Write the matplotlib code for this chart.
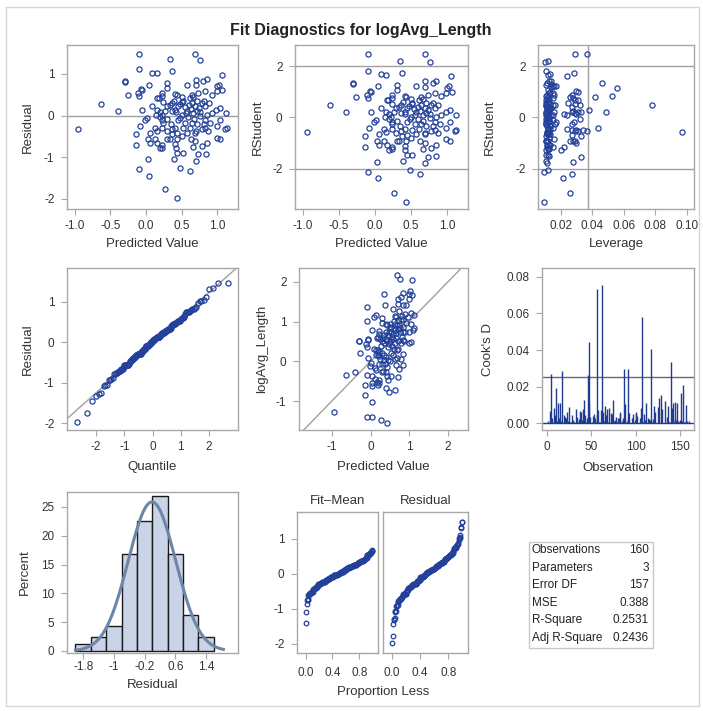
import numpy as np
import matplotlib
matplotlib.use("Agg")
import matplotlib.pyplot as plt
from matplotlib.patches import Rectangle
from matplotlib.ticker import FormatStrFormatter
from statistics import NormalDist

# observation-ordered values
predicted = [
    0.52, 0.01, 0.80, 0.37, 1.00, 0.51, 0.23, 0.85, 0.44, 0.34,
    0.71, 0.59, -0.07, 0.50, -0.95, 0.78, 0.03, 0.76, -0.06, 0.43,
    0.81, 1.04, 0.30, 1.04, 0.33, 0.83, 0.99, 0.30, 0.05, -0.40,
    0.69, 0.83, 0.57, 0.03, 0.63, 0.83, 0.70, -0.14, 0.57, 0.87,
    1.02, 0.92, 0.05, 0.45, 1.13, 0.73, 1.07, 0.62, 0.12, 0.41,
    0.81, 0.83, 0.16, 0.36, 0.71, 0.27, 0.99, 0.23, 0.29, 0.64,
    0.73, 0.69, 0.23, 0.24, -0.26, 0.55, -0.11, 0.30, 0.15, -0.30,
    0.45, -0.10, 0.41, 0.08, 0.08, 0.41, 0.16, 0.63, -0.06, -0.09,
    0.36, 0.18, 0.66, 0.14, 0.29, 0.23, -0.30, 0.69, 0.22, 0.23,
    0.37, 0.23, 0.78, 0.36, 0.24, 0.41, 0.85, 0.42, 0.12, -0.63,
    0.43, 0.99, 0.50, 0.30, 0.64, 1.04, -0.10, 0.56, 0.61, 0.61,
    0.57, 0.19, 0.66, 0.78, 0.66, 0.69, 0.04, 0.71, 0.90, 0.50,
    0.70, 0.42, 0.85, -0.02, 0.44, 0.92, -0.10, 0.19, 0.76, 0.52,
    1.12, 0.48, 0.70, 0.98, 1.11, 0.67, 0.84, 0.33, 0.35, 0.43,
    0.04, 0.39, 0.47, 0.52, -0.10, 0.60, 0.15, 0.15, 0.74, 0.70,
    0.48, 0.88, 0.20, 1.06, 0.27, 0.54, -0.14, 0.64, 0.76, 0.39,
]
residual = [
    0.34, -0.06, 0.82, -0.45, 0.70, 0.33, -0.10, 0.87, -0.41, 1.35,
    0.34, -0.03, 0.63, -0.49, -0.33, 0.29, -1.05, -0.02, 0.60, -0.57,
    0.34, -0.10, 0.78, 0.18, -0.57, 0.22, -0.25, 0.66, -0.41, 0.12,
    0.22, -0.10, 0.74, -0.57, 0.16, -0.29, 0.74, -0.45, 0.12, -0.37,
    0.74, 0.50, -0.67, 0.22, -0.29, -0.93, 0.60, -1.33, -0.57, 0.14,
    -0.21, 0.58, -0.67, 0.30, -0.21, -1.76, 0.58, -0.71, 0.22, -0.17,
    0.54, 1.48, -0.77, 0.32, 0.48, -0.17, 0.54, -0.57, 0.14, 0.81,
    -0.10, 0.46, -0.69, 0.22, 1.03, -0.29, 0.42, -0.57, 0.14, -0.25,
    -0.32, 0.42, -0.75, 0.01, -0.37, 0.54, 0.82, -0.61, 0.02, -0.29,
    1.06, 0.46, -0.73, 0.10, -0.17, 0.52, -0.67, 0.08, -0.29, 0.28,
    0.48, -0.53, 0.02, -0.08, 0.50, -0.56, 1.48, 0.06, -0.29, 0.41,
    -0.41, -0.79, 0.05, -0.32, 0.45, -0.41, -1.44, 0.10, -0.17, 0.44,
    0.86, -0.78, 0.02, -0.10, -0.90, 0.05, -1.29, -0.04, 1.32, -0.89,
    0.05, -0.05, -1.09, 0.14, -0.32, -0.08, -0.93, 0.26, -0.20, -1.98,
    0.74, -1.05, 0.28, -0.30, 1.11, 0.25, 1.02, -0.36, 0.18, -0.38,
    -1.25, 0.30, 0.08, 0.98, 0.12, 0.20, -0.71, 0.30, 0.08, 0.36,
]
leverage = [
    0.0110, 0.0155, 0.0115, 0.0110, 0.0560, 0.0290, 0.0285, 0.0125, 0.0270, 0.0118,
    0.0120, 0.0115, 0.0300, 0.0125, 0.0970, 0.0165, 0.0280, 0.0125, 0.0135, 0.0115,
    0.0250, 0.0170, 0.0110, 0.0380, 0.0290, 0.0115, 0.0150, 0.0120, 0.0130, 0.0490,
    0.0125, 0.0110, 0.0155, 0.0120, 0.0280, 0.0300, 0.0140, 0.0330, 0.0110, 0.0120,
    0.0160, 0.0526, 0.0115, 0.0130, 0.0340, 0.0330, 0.0310, 0.0275, 0.0110, 0.0120,
    0.0130, 0.0125, 0.0125, 0.0320, 0.0115, 0.0260, 0.0150, 0.0155, 0.0115, 0.0270,
    0.0270, 0.0370, 0.0120, 0.0130, 0.0420, 0.0110, 0.0160, 0.0260, 0.0270, 0.0140,
    0.0125, 0.0280, 0.0115, 0.0140, 0.0135, 0.0120, 0.0110, 0.0110, 0.0330, 0.0440,
    0.0290, 0.0290, 0.0125, 0.0115, 0.0115, 0.0115, 0.0460, 0.0300, 0.0125, 0.0130,
    0.0285, 0.0155, 0.0120, 0.0110, 0.0110, 0.0105, 0.0130, 0.0300, 0.0240, 0.0780,
    0.0260, 0.0160, 0.0120, 0.0125, 0.0120, 0.0280, 0.0290, 0.0155, 0.0120, 0.0310,
    0.0115, 0.0200, 0.0110, 0.0310, 0.0115, 0.0125, 0.0215, 0.0290, 0.0165, 0.0125,
    0.0140, 0.0110, 0.0125, 0.0115, 0.0120, 0.0140, 0.0095, 0.0320, 0.0100, 0.0110,
    0.0240, 0.0110, 0.0115, 0.0160, 0.0370, 0.0125, 0.0125, 0.0115, 0.0130, 0.0097,
    0.0170, 0.0110, 0.0105, 0.0275, 0.0105, 0.0270, 0.0118, 0.0115, 0.0120, 0.0120,
    0.0118, 0.0155, 0.0115, 0.0240, 0.0310, 0.0125, 0.0220, 0.0110, 0.0220, 0.0120,
]
n_params = 3
stat_labels = ["Observations", "Parameters", "Error DF", "MSE", "R-Square", "Adj R-Square"]
stat_values = ["160", "3", "157", "0.388", "0.2531", "0.2436"]

pred = np.array(predicted)
res = np.array(residual)
lev = np.array(leverage)
n = len(pred)
obs = np.arange(1, n + 1)
sse = np.sum(res ** 2)
mse = sse / (n - n_params)
s_i = np.sqrt((sse - res ** 2 / (1 - lev)) / (n - n_params - 1))
rstudent = res / (s_i * np.sqrt(1 - lev))
cooksd = res ** 2 / (n_params * mse) * lev / (1 - lev) ** 2
observed = pred + res

plt.rcParams["font.family"] = ["Liberation Sans", "DejaVu Sans"]
plt.rcParams["axes.unicode_minus"] = False

W, H = 703, 711
MARK = "#23419A"
FRAME = "#A8A8A8"
REF = "#A0A0A0"
TXT = "#333333"
LABEL_FS = 9.5
TICK_FS = 8.5

fig = plt.figure(figsize=(W / 100, H / 100), dpi=100)
fig.patch.set_facecolor("white")
fig.patches.append(Rectangle((6 / W, 1 - 706 / H), 693 / W, 699 / H, transform=fig.transFigure,
                             facecolor="none", edgecolor="#D6D6D6", lw=1))
fig.text(361 / W, 1 - 30 / H, "Fit Diagnostics for logAvg_Length", ha="center", va="center",
         fontsize=11.5, fontweight="bold", color="#222222")


def add_ax(x0, y0, x1, y1, xpad=4):
    ax = fig.add_axes([x0 / W, 1 - y1 / H, (x1 - x0) / W, (y1 - y0) / H])
    for s in ax.spines.values():
        s.set_color(FRAME)
        s.set_linewidth(1)
    ax.tick_params(colors=FRAME, labelcolor=TXT, labelsize=TICK_FS, length=4, width=0.8)
    ax.tick_params(axis="x", pad=xpad)
    ax.tick_params(axis="y", pad=5)
    return ax


def labels(ax, xlab, ylab, xlab_y, ylab_x):
    # label centres given in figure pixels
    box = ax.get_position()
    ax.set_xlabel(xlab, fontsize=LABEL_FS, color=TXT, va="center")
    ax.xaxis.set_label_coords((box.x0 + box.x1) / 2, 1 - xlab_y / H, transform=fig.transFigure)
    ax.set_ylabel(ylab, fontsize=LABEL_FS, color=TXT, va="center")
    ax.yaxis.set_label_coords(ylab_x / W, (box.y0 + box.y1) / 2, transform=fig.transFigure)


def scatter(ax, x, y, ms=3.7):
    ax.plot(x, y, "o", ms=ms, mfc="none", mec=MARK, mew=0.9, zorder=3)


# Residual vs predicted
ax = add_ax(67, 45, 238, 209)
scatter(ax, pred, res)
ax.axhline(0, color=REF, lw=1, zorder=1)
ax.set_xlim(-1.11, 1.29)
ax.set_ylim(-2.24, 1.69)
ax.set_xticks([-1.0, -0.5, 0.0, 0.5, 1.0])
ax.xaxis.set_major_formatter(FormatStrFormatter("%.1f"))
ax.set_yticks([-2, -1, 0, 1])
labels(ax, "Predicted Value", "Residual", 244, 28)

# RStudent vs predicted
ax = add_ax(295, 45, 468, 209)
scatter(ax, pred, rstudent)
for v in (-2, 2):
    ax.axhline(v, color=REF, lw=1, zorder=1)
ax.set_xlim(-1.11, 1.29)
ax.set_ylim(-3.57, 2.82)
ax.set_xticks([-1.0, -0.5, 0.0, 0.5, 1.0])
ax.xaxis.set_major_formatter(FormatStrFormatter("%.1f"))
ax.set_yticks([-2, 0, 2])
labels(ax, "Predicted Value", "RStudent", 244, 258)

# RStudent vs leverage
ax = add_ax(538, 45, 694, 209)
scatter(ax, lev, rstudent)
for v in (-2, 2):
    ax.axhline(v, color=REF, lw=1, zorder=1)
ax.axvline(2 * n_params / n, color=REF, lw=1, zorder=1)
ax.set_xlim(0.0057, 0.1045)
ax.set_ylim(-3.57, 2.82)
ax.set_xticks([0.02, 0.04, 0.06, 0.08, 0.10])
ax.xaxis.set_major_formatter(FormatStrFormatter("%.2f"))
ax.set_yticks([-2, 0, 2])
labels(ax, "Leverage", "RStudent", 244, 490)

# Q-Q plot
ax = add_ax(67, 268, 238, 430)
nd = NormalDist()
q = np.array([nd.inv_cdf((i - 0.375) / (n + 0.25)) for i in obs])
scatter(ax, q, np.sort(res))
ax.axline((0, res.mean()), slope=np.sqrt(mse), color=REF, lw=1, zorder=1)
ax.set_xlim(-3.03, 3.03)
ax.set_ylim(-2.17, 1.84)
ax.set_xticks([-2, -1, 0, 1, 2])
ax.set_yticks([-2, -1, 0, 1])
labels(ax, "Quantile", "Residual", 467, 28)

# Observed vs predicted
ax = add_ax(299, 268, 468, 430)
scatter(ax, pred, observed)
ax.axline((0, 0), slope=1, color=REF, lw=1, zorder=1)
ax.set_xlim(-1.85, 2.52)
ax.set_ylim(-1.73, 2.35)
ax.set_xticks([-1, 0, 1, 2])
ax.set_yticks([-1, 0, 1, 2])
labels(ax, "Predicted Value", "logAvg_Length", 467, 262)

# Cook's D
ax = add_ax(542, 268, 694, 430)
ax.vlines(obs, 0, cooksd, color="#1F3C8E", lw=1.0, zorder=2)
ax.axhline(0, color="#1F3C8E", lw=1, zorder=2)
ax.axhline(4 / n, color="#5F6A7A", lw=1, zorder=1)
ax.set_xlim(-5.6, 166)
ax.set_ylim(-0.0038, 0.0849)
ax.set_xticks([0, 50, 100, 150])
ax.set_yticks([0.0, 0.02, 0.04, 0.06, 0.08])
ax.yaxis.set_major_formatter(FormatStrFormatter("%.2f"))
labels(ax, "Observation", "Cook's D", 468, 488)

# Residual histogram
ax = add_ax(67, 492, 238, 653, xpad=2)
edges = np.linspace(-2.0, 1.6, 10)
ax.hist(res, bins=edges, weights=np.full(n, 100 / n), facecolor="#C9D4E6",
        edgecolor="#1A1A1A", lw=1, zorder=2)
xs = np.linspace(-2.0, 1.85, 200)
sd = res.std(ddof=1)
dens = 100 * 0.4 * np.exp(-0.5 * ((xs - res.mean()) / sd) ** 2) / (sd * np.sqrt(2 * np.pi))
ax.plot(xs, dens, color="#6D86A8", lw=2.2, zorder=3)
ax.set_xlim(-2.22, 2.23)
ax.set_ylim(-0.35, 27.6)
ax.set_xticks([-1.8, -1.0, -0.2, 0.6, 1.4])
ax.set_xticklabels(["-1.8", "-1", "-0.2", "0.6", "1.4"])
ax.set_yticks([0, 5, 10, 15, 20, 25])
labels(ax, "Residual", "Percent", 685, 25)

# Residual-fit spread
prop = (obs - 0.5) / n
fit_mean = np.sort(pred - pred.mean())
axl = add_ax(297, 512, 378, 653, xpad=6)
scatter(axl, prop, fit_mean, ms=3.3)
axr = add_ax(383, 512, 468, 653, xpad=6)
scatter(axr, prop, np.sort(res), ms=3.3)
for a, title in ((axl, "Fit\u2013Mean"), (axr, "Residual")):
    a.set_xlim(-0.13, 1.08)
    a.set_ylim(-2.26, 1.77)
    a.set_xticks([0.0, 0.4, 0.8])
    a.xaxis.set_major_formatter(FormatStrFormatter("%.1f"))
    a.set_yticks([-2, -1, 0, 1])
    a.set_title(title, fontsize=LABEL_FS, color=TXT, pad=6)
axr.tick_params(axis="y", left=False, labelleft=False)
fig.text(383 / W, 1 - 692 / H, "Proportion Less", ha="center", va="center",
         fontsize=LABEL_FS, color=TXT)

# Fit statistics table
fig.patches.append(Rectangle((529 / W, 1 - 648 / H), 124 / W, 106 / H, transform=fig.transFigure,
                             facecolor="white", edgecolor="#C8C8C8", lw=1))
for i, (lab, val) in enumerate(zip(stat_labels, stat_values)):
    y = 1 - (550 + i * 17.6) / H
    fig.text(532 / W, y, lab, ha="left", va="center", fontsize=8.5, color="#222222")
    fig.text(649 / W, y, val, ha="right", va="center", fontsize=8.5, color="#222222")

fig.savefig("out.png", dpi=100)
